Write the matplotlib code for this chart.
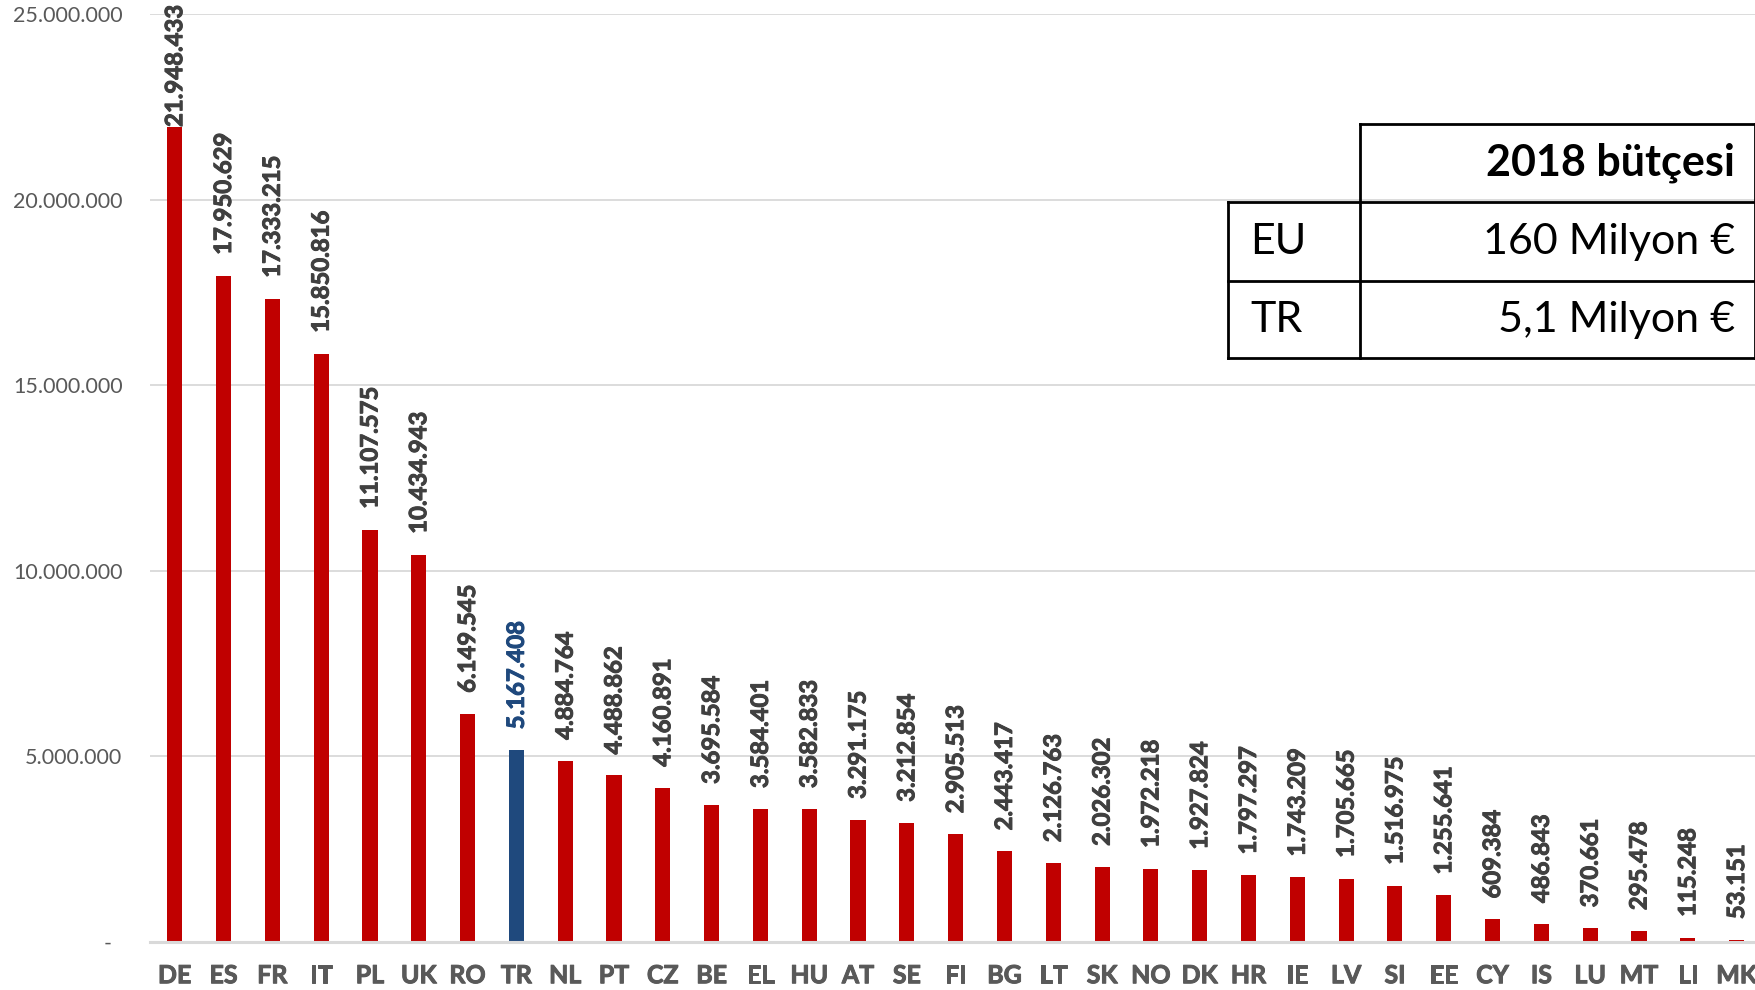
import numpy as np
import matplotlib
matplotlib.use('Agg')
import matplotlib.pyplot as plt
import matplotlib.patheffects as pe
from matplotlib.lines import Line2D

plt.rcParams['font.family'] = ['Lato', 'DejaVu Sans']

countries = ['DE', 'ES', 'FR', 'IT', 'PL', 'UK', 'RO', 'TR', 'NL', 'PT', 'CZ',
             'BE', 'EL', 'HU', 'AT', 'SE', 'FI', 'BG', 'LT', 'SK', 'NO', 'DK',
             'HR', 'IE', 'LV', 'SI', 'EE', 'CY', 'IS', 'LU', 'MT', 'LI', 'MK']
values = [21948433, 17950629, 17333215, 15850816, 11107575, 10434943, 6149545,
          5167408, 4884764, 4488862, 4160891, 3695584, 3584401, 3582833,
          3291175, 3212854, 2905513, 2443417, 2126763, 2026302, 1972218,
          1927824, 1797297, 1743209, 1705665, 1516975, 1255641, 609384,
          486843, 370661, 295478, 115248, 53151]
highlight = 'TR'

yticks = [0, 5000000, 10000000, 15000000, 20000000, 25000000]

table_header = '2018 bütçesi'
table_rows = ['EU', 'TR']
table_vals = ['160 Milyon €', '5,1 Milyon €']

RED = '#C00000'
BLUE = '#1F497D'
GRID = '#D9D9D9'
LABEL = '#404040'
TICK = '#595959'

W, H = 1756, 990
fig = plt.figure(figsize=(W / 100, H / 100), dpi=100)
ax = fig.add_axes([150.3 / W, 1 - 942 / H, (1761 - 150.3) / W, (942 - 14) / H])

x = np.arange(len(countries))
colors = [BLUE if c == highlight else RED for c in countries]
ax.bar(x, values, width=0.31, color=colors, zorder=3)

ax.set_xlim(-0.5, len(countries) - 0.5)
ax.set_ylim(0, 25000000)
ax.set_yticks(yticks)
ax.set_yticklabels(['-  ' if v == 0 else f'{v:,}'.replace(',', '.') for v in yticks],
                   fontsize=15.5, color=TICK)
ax.set_xticks(x)
ax.set_xticklabels(countries, fontsize=18, fontweight='bold', color=TICK)
for t in ax.get_xticklabels():
    t.set_path_effects([pe.withStroke(linewidth=0.7, foreground=TICK)])
ax.tick_params(axis='y', length=0, pad=20)
ax.tick_params(axis='x', length=0, pad=16)
ax.grid(axis='y', color=GRID, lw=1.3, zorder=0)
for s in ['top', 'right', 'left']:
    ax.spines[s].set_visible(False)
ax.spines['bottom'].set_color(GRID)
ax.spines['bottom'].set_linewidth(2.2)
ax.spines['bottom'].set_zorder(4)

# value labels above bars
labels = []
for xi, v, c in zip(x, values, countries):
    col = BLUE if c == highlight else LABEL
    t = ax.annotate(f'{v:,}'.replace(',', '.'), (xi, v), xytext=(0, 15),
                    textcoords='offset points', rotation=90, ha='center', va='bottom',
                    fontsize=17.2, fontweight='bold', color=col, zorder=5)
    t.set_path_effects([pe.withStroke(linewidth=0.7, foreground=col)])
    labels.append(t)

fig.canvas.draw()
r = fig.canvas.get_renderer()
for t in labels:
    bb = t.get_window_extent(r)
    over = bb.y1 - (H - 5)
    if over > 0:
        ox, oy = t.xyann
        t.xyann = (ox, oy - over * 72 / 100)

# summary table (figure pixel coords)
def fx(px):
    return px / W

def fy(py):
    return 1 - py / H

lw = 2.0
segs = [
    ((1360, 1755), (124, 124)),
    ((1228, 1755), (202, 202)),
    ((1228, 1755), (281, 281)),
    ((1228, 1755), (358, 358)),
    ((1360, 1360), (124, 358)),
    ((1755, 1755), (124, 358)),
    ((1228, 1228), (202, 358)),
]
for (xa, xb), (ya, yb) in segs:
    fig.add_artist(Line2D([fx(xa), fx(xb)], [fy(ya), fy(yb)], color='black', lw=lw))

fig.text(fx(1735), fy(163), table_header, ha='right', va='center',
         fontsize=31, fontweight='bold', color='black')
for i, (name, val) in enumerate(zip(table_rows, table_vals)):
    yc = [242, 320][i]
    fig.text(fx(1250), fy(yc), name, ha='left', va='center', fontsize=31, color='black')
    fig.text(fx(1735), fy(yc), val, ha='right', va='center', fontsize=31, color='black')

fig.savefig('out.png', dpi=100)
